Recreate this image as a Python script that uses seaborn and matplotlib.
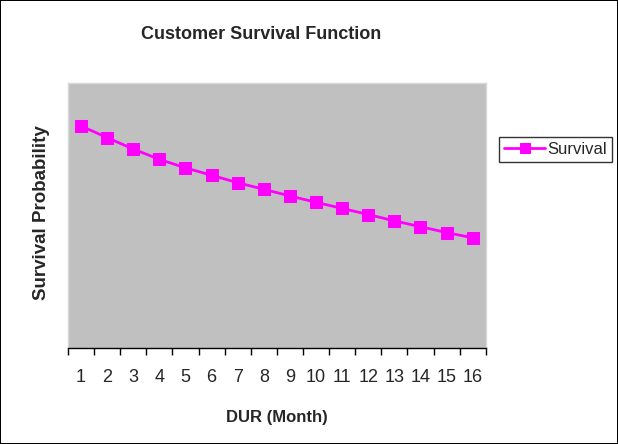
import numpy as np
import pandas as pd
import matplotlib
matplotlib.use("Agg")
import matplotlib.pyplot as plt
import seaborn as sns
from matplotlib.ticker import FixedLocator

# Data
months = list(range(1, 17))
survival = [0.838, 0.794, 0.751, 0.712, 0.680, 0.652, 0.624, 0.599,
            0.574, 0.550, 0.527, 0.504, 0.480, 0.458, 0.436, 0.416]

data = pd.DataFrame({"pos": np.arange(len(months)), "Survival": survival})

sns.set_style("white")
plt.rcParams["font.family"] = ["Liberation Sans", "DejaVu Sans"]

fig = plt.figure(figsize=(6.18, 4.44), dpi=100, facecolor="white",
                 edgecolor="black", linewidth=1.2)
ax = fig.add_axes([0.110, 0.216, 0.676, 0.597])
ax.set_facecolor("#C0C0C0")

sns.lineplot(data=data, x="pos", y="Survival", ax=ax, color="#FF00FF",
             marker="s", markersize=9, markeredgecolor="#FF00FF",
             linewidth=2, label="Survival", legend=False)

ax.set_xlim(-0.5, len(months) - 0.5)
ax.set_ylim(0, 1)
ax.set_yticks([])

# tick marks on category boundaries, labels at category centres
ax.xaxis.set_major_locator(FixedLocator(np.arange(-0.5, len(months), 1.0)))
ax.xaxis.set_minor_locator(FixedLocator(np.arange(len(months))))
ax.set_xticklabels([])
ax.set_xticklabels([str(m) for m in months], minor=True)
ax.tick_params(axis="x", which="major", direction="out", length=5,
               width=1, color="black", bottom=True)
ax.tick_params(axis="x", which="minor", length=0, pad=15, labelsize=13)

for side in ["top", "right", "left"]:
    ax.spines[side].set_color("#D8D8D8")
    ax.spines[side].set_linewidth(1)
ax.spines["bottom"].set_color("black")
ax.spines["bottom"].set_linewidth(1)

ax.set_xlabel("DUR (Month)", fontsize=12, fontweight="bold")
ax.xaxis.set_label_coords(0.5, -0.234)
ax.set_ylabel("Survival Probability", fontsize=13.5, fontweight="bold")
ax.yaxis.set_label_coords(-0.042, 0.51)

fig.text(0.422, 0.922, "Customer Survival Function", ha="center",
         va="center", fontsize=13, fontweight="bold")

handles, labels = ax.get_legend_handles_labels()
leg = fig.legend(handles, labels, loc="upper left",
                 bbox_to_anchor=(0.807, 0.691), fontsize=12,
                 frameon=True, fancybox=False, edgecolor="black",
                 borderpad=0.3, handlelength=2.5, handletextpad=0.1,
                 borderaxespad=0)
leg.get_frame().set_linewidth(1)
for h in leg.legend_handles:
    h.set_markersize(7)

fig.savefig("out.png", dpi=100, edgecolor=fig.get_edgecolor())
